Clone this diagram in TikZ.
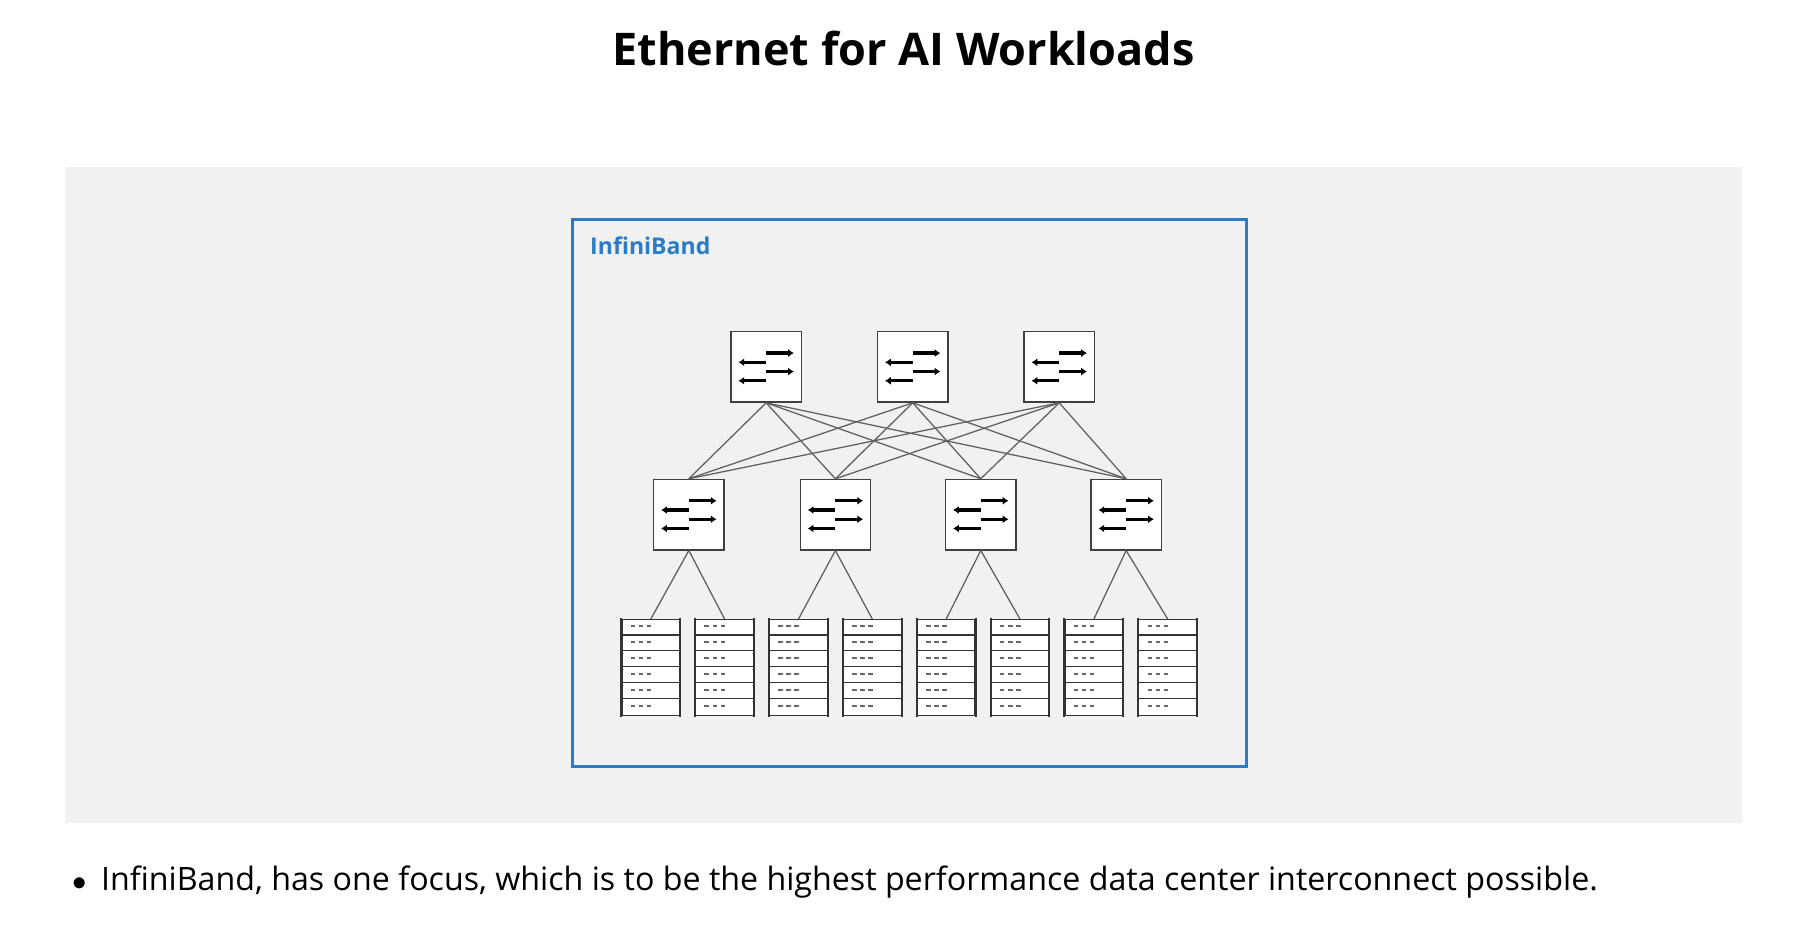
\documentclass[tikz,border=0pt]{standalone}
\usepackage{fontspec}
\setmainfont{Open Sans}
\usetikzlibrary{arrows.meta,calc}
\definecolor{panel}{HTML}{F1F1F1}
\definecolor{ibblue}{HTML}{2A7BC8}
\definecolor{lnk}{HTML}{606060}
\begin{document}
\begin{tikzpicture}[x=1pt,y=-1pt,
  sw/.style={draw=black!75,fill=white,line width=1.2pt,minimum size=61pt,inner sep=0pt},
  srv/.style={draw=black!80,fill=white,line width=1pt,minimum width=50pt,minimum height=83pt,inner sep=0pt},
  link/.style={draw=lnk,line width=1.1pt},
  arr/.style={line width=2.8pt,-{Latex[length=5pt,width=7pt]}}]
\useasboundingbox (0,0) rectangle (1560,801);
\fill[panel] (56,145) rectangle (1510,713);
\draw[ibblue,line width=2.5pt] (496,190) rectangle (1080,664);
\node[anchor=west,text=ibblue,font=\fontsize{20}{23}\selectfont\bfseries] (lbl) at (508,213) {InfiniBand};
\node[font=\fontsize{39}{44}\selectfont\bfseries] (title) at (783,42) {Ethernet for AI Workloads};
\node[anchor=west,font=\fontsize{27.9}{32}\selectfont,inner sep=0pt] (bul) at (63,764) {$\bullet$\hspace{12pt}InfiniBand, has one focus, which is to be the highest performance data center interconnect possible.};
% switches
\foreach \n/\x/\y in {t1/664/318,t2/791/318,t3/918/318,m1/597/446,m2/724/446,m3/850/446,m4/976/446}{
  \node[sw] (\n) at (\x,\y) {};
  \draw[arr] ($(\n.center)+(0,-12)$) -- ++(24,0);
  \draw[arr] ($(\n.center)+(0,4)$) -- ++(24,0);
  \draw[arr] ($(\n.center)+(0,-4)$) -- ++(-24,0);
  \draw[arr] ($(\n.center)+(0,12)$) -- ++(-24,0);
}
\foreach \a in {t1,t2,t3}\foreach \b in {m1,m2,m3,m4}{\draw[link] (\a.south) -- (\b.north);}
% servers
\foreach \m/\x in {1/564,2/692,3/820,4/948}{
  \foreach \k/\dx in {a/0,b/64}{
    \node[srv] (s\m\k) at (\x+\dx,578.5) {};
    \foreach \r in {1,...,5}{\draw[black!80,line width=1pt] ($(s\m\k.north west)+(0,13.8*\r)$) -- ++(50,0);}
    \draw[black!80,line width=1.8pt] ($(s\m\k.north west)+(0,-1)$) -- ++(0,86);
    \draw[black!80,line width=1.8pt] ($(s\m\k.north east)+(0,-1)$) -- ++(0,86);
    \foreach \r in {0,...,5}{\foreach \d in {0,1,2}{\fill[black!60] ($(s\m\k.north west)+(8+7*\d,7+13.8*\r)$) rectangle ++(4,-1.6);}}
    \draw[link] (m\m.south) -- (s\m\k.north);
  }
}
\end{tikzpicture}
\end{document}
